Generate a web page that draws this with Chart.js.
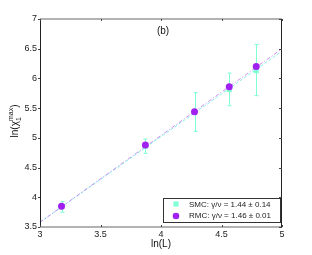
<!DOCTYPE html>
<html>
<head>
<meta charset="utf-8">
<script src="https://cdn.jsdelivr.net/npm/chart.js@4"></script>
<style>
  body { margin: 0; background: #fff; }
  #wrap { width: 312px; height: 255px; position: relative; }
</style>
</head>
<body>
<div id="wrap"><canvas id="c"></canvas></div>
<script>
// données
const lnL = [3.178, 3.871, 4.277, 4.564, 4.787];
const smcY = [3.84, 4.86, 5.43, 5.81, 6.13];
const smcLow = [3.75, 4.74, 5.11, 5.54, 5.71];
const smcHigh = [3.93, 4.98, 5.76, 6.09, 6.57];
const rmcY = [3.85, 4.88, 5.44, 5.86, 6.20];

// droites d'ajustement (extrémités x = 3 et x = 5)
const fitX = [3, 5];
const smcFit = [3.58, 6.46];
const rmcFit = [3.58, 6.50];

const xTicks = [3, 3.5, 4, 4.5, 5];
const yTicks = [3.5, 4, 4.5, 5, 5.5, 6, 6.5, 7];

const legendLabels = ['SMC: \u03B3/\u03BD = 1.44 \u00B1 0.14', 'RMC: \u03B3/\u03BD = 1.46 \u00B1 0.01'];

const SMC_COL = 'rgb(127,255,212)';
const RMC_COL = 'rgb(160,32,240)';
const FONT = '"Liberation Sans", Arial, sans-serif';

const pts = (xs, ys) => xs.map((x, i) => ({ x: x, y: ys[i] }));

// barres d'erreur, cadre, ticks, légende et titres
const decor = {
  id: 'decor',
  beforeDatasetsDraw(chart) {
    const ctx = chart.ctx, xs = chart.scales.x, ys = chart.scales.y;
    ctx.save();
    ctx.strokeStyle = SMC_COL;
    ctx.lineWidth = 1;
    lnL.forEach((x, i) => {
      const px = Math.round(xs.getPixelForValue(x)) + 0.5;
      const y1 = ys.getPixelForValue(smcLow[i]);
      const y2 = ys.getPixelForValue(smcHigh[i]);
      ctx.beginPath();
      ctx.moveTo(px, y1); ctx.lineTo(px, y2);
      ctx.moveTo(px - 2, y1); ctx.lineTo(px + 2, y1);
      ctx.moveTo(px - 2, y2); ctx.lineTo(px + 2, y2);
      ctx.stroke();
    });
    ctx.restore();
  },
  afterDraw(chart) {
    const ctx = chart.ctx, a = chart.chartArea;
    const xs = chart.scales.x, ys = chart.scales.y;
    ctx.save();
    // cadre
    ctx.strokeStyle = '#999';
    ctx.lineWidth = 1.5;
    ctx.beginPath();
    ctx.moveTo(a.left, a.top); ctx.lineTo(a.right, a.top);
    ctx.moveTo(a.left, a.bottom); ctx.lineTo(a.right, a.bottom);
    ctx.stroke();
    ctx.strokeStyle = '#222';
    ctx.lineWidth = 1;
    ctx.beginPath();
    ctx.moveTo(a.left + 0.5, a.top); ctx.lineTo(a.left + 0.5, a.bottom);
    ctx.moveTo(a.right - 0.5, a.top); ctx.lineTo(a.right - 0.5, a.bottom);
    ctx.stroke();
    // petits ticks
    ctx.strokeStyle = '#444';
    ctx.beginPath();
    xTicks.forEach(v => {
      const px = Math.round(xs.getPixelForValue(v)) + 0.5;
      ctx.moveTo(px, a.bottom); ctx.lineTo(px, a.bottom - 2);
      ctx.moveTo(px, a.top); ctx.lineTo(px, a.top + 2);
    });
    yTicks.forEach(v => {
      const py = Math.round(ys.getPixelForValue(v)) + 0.5;
      ctx.moveTo(a.left, py); ctx.lineTo(a.left - 2, py);
      ctx.moveTo(a.right, py); ctx.lineTo(a.right - 3, py);
    });
    ctx.stroke();

    // titre (b)
    ctx.fillStyle = '#111';
    ctx.font = '10px ' + FONT;
    ctx.textAlign = 'center';
    ctx.textBaseline = 'middle';
    ctx.fillText('(b)', 163, 31);

    // titre axe x
    ctx.fillText('ln(L)', (a.left + a.right) / 2, 244);

    // titre axe y : ln(χ_1^max)
    ctx.save();
    ctx.translate(14, 121);
    ctx.rotate(-Math.PI / 2);
    ctx.textAlign = 'left';
    ctx.textBaseline = 'alphabetic';
    const big = '10px ' + FONT, small = '7px ' + FONT;
    ctx.font = big; const w1 = ctx.measureText('ln(\u03C7').width, w3 = ctx.measureText(')').width;
    ctx.font = small; const w2 = ctx.measureText('max').width;
    let x0 = -(w1 + w2 + w3) / 2;
    ctx.font = big; ctx.fillText('ln(\u03C7', x0, 4);
    ctx.font = small;
    ctx.fillText('max', x0 + w1, -1);
    ctx.fillText('1', x0 + w1, 7);
    ctx.font = big; ctx.fillText(')', x0 + w1 + w2, 4);
    ctx.restore();

    // légende
    ctx.fillStyle = '#fff';
    ctx.fillRect(163.5, 198.5, 117, 24);
    ctx.strokeStyle = '#333';
    ctx.lineWidth = 1;
    ctx.strokeRect(163.5, 198.5, 117, 24);
    ctx.fillStyle = SMC_COL;
    ctx.fillRect(173.5, 201.5, 5, 5);
    ctx.fillStyle = RMC_COL;
    ctx.beginPath(); ctx.arc(176, 216, 3.3, 0, Math.PI * 2); ctx.fill();
    ctx.fillStyle = '#222';
    ctx.font = '8px ' + FONT;
    ctx.textAlign = 'left';
    ctx.textBaseline = 'middle';
    ctx.fillText(legendLabels[0], 189, 204.5);
    ctx.fillText(legendLabels[1], 189, 216);
    ctx.restore();
  }
};

new Chart(document.getElementById('c'), {
  type: 'scatter',
  data: {
    datasets: [
      { type: 'line', data: pts(fitX, smcFit), borderColor: 'rgba(120,240,230,0.9)', borderWidth: 1, borderDash: [3, 2], pointRadius: 0, order: 3 },
      { type: 'line', data: pts(fitX, rmcFit), borderColor: 'rgba(190,120,240,0.8)', borderWidth: 1, borderDash: [4, 2, 1, 2], pointRadius: 0, order: 2 },
      { data: pts(lnL, smcY), pointStyle: 'rect', pointRadius: 3.5, backgroundColor: SMC_COL, borderColor: SMC_COL, borderWidth: 0, order: 1 },
      { data: pts(lnL, rmcY), pointStyle: 'circle', pointRadius: 3.5, backgroundColor: RMC_COL, borderColor: RMC_COL, borderWidth: 0, order: 0 }
    ]
  },
  options: {
    responsive: true,
    maintainAspectRatio: false,
    animation: false,
    layout: { padding: { top: 19, right: 30, left: 0, bottom: 0 } },
    plugins: { legend: { display: false }, tooltip: { enabled: false } },
    scales: {
      x: {
        type: 'linear', min: 3, max: 5,
        afterBuildTicks: s => { s.ticks = xTicks.map(v => ({ value: v })); },
        afterFit: s => { s.height = 28; },
        grid: { display: false, drawTicks: false },
        border: { display: false },
        ticks: { padding: 2, color: '#222', font: { family: FONT, size: 9 }, maxRotation: 0, callback: v => String(v) }
      },
      y: {
        type: 'linear', min: 3.5, max: 7,
        afterBuildTicks: s => { s.ticks = yTicks.map(v => ({ value: v })); },
        afterFit: s => { s.width = 40; },
        grid: { display: false, drawTicks: false },
        border: { display: false },
        ticks: { padding: 3, color: '#222', font: { family: FONT, size: 9 }, callback: v => String(v) }
      }
    }
  },
  plugins: [decor]
});
</script>
</body>
</html>
